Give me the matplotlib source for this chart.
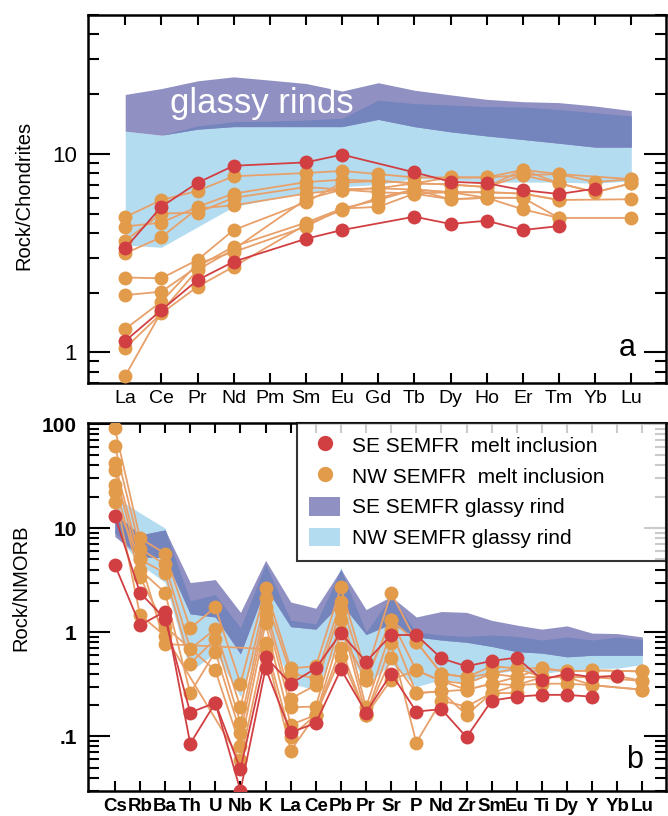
import numpy as np
import matplotlib
matplotlib.use("Agg")
import matplotlib.pyplot as plt
from matplotlib.ticker import LogLocator, FuncFormatter, NullFormatter
from matplotlib.patches import Patch
from matplotlib.lines import Line2D

plt.rcParams['font.family'] = ['Liberation Sans', 'DejaVu Sans']
nan = np.nan

# ---- panel a: chondrite normalised REE ----
ree = ['La', 'Ce', 'Pr', 'Nd', 'Pm', 'Sm', 'Eu', 'Gd', 'Tb', 'Dy', 'Ho', 'Er', 'Tm', 'Yb', 'Lu']

se_rind_hi_a = [19.9, 21.3, 23.3, 24.4, 23.5, 22.6, 20.7, 22.8, 20.9, 19.8, 18.8, 18.3, 18.1, 17.4, 16.5]
se_rind_lo_a = [13.0, 12.4, 13.3, 13.7, 13.7, 13.7, 13.7, 14.9, 13.7, 12.9, 12.3, 11.8, 11.3, 10.8, 10.8]
nw_rind_hi_a = [13.0, 12.4, 13.8, 14.5, 14.6, 14.8, 15.1, 18.6, 17.9, 17.6, 17.3, 17.2, 16.7, 16.1, 15.5]
nw_rind_lo_a = [3.47, 3.38, 4.28, 5.41, 5.9, 6.31, 6.82, 7.0, 7.5, 7.4, 7.2, 7.2, 7.2, 7.1, 7.3]

se_mi_a = [
    [3.34, 5.41, 7.14, 8.7, nan, 9.05, 9.9, nan, 8.06, 7.23, 7.1, 6.56, 6.27, 6.67, nan],
    [1.14, 1.63, 2.31, 2.86, nan, 3.73, 4.13, nan, 4.82, 4.43, 4.6, 4.13, 4.32, nan, nan],
]
nw_mi_a = [
    [4.8, 5.85, 6.5, 7.7, nan, 8.0, 8.2, 7.9, 7.6, 7.6, 7.6, 8.3, 7.9, 7.2, 7.45],
    [4.3, 4.5, 5.4, 6.3, nan, 7.2, 7.4, 7.3, 7.1, 7.0, 6.8, 7.8, 7.1, 6.4, 7.1],
    [3.65, 5.0, 5.05, 6.0, nan, 6.8, 6.6, 6.7, 6.6, 6.4, 6.4, 6.3, 5.85, nan, 5.9],
    [3.15, 3.8, 5.3, 5.5, nan, 6.3, 6.6, 6.4, 6.3, 5.9, 6.0, 6.0, 4.75, nan, 4.75],
    [2.38, 2.36, 2.92, 4.13, nan, 5.7, 7.15, 7.3, 7.1, 7.6, 7.6, 7.8, 7.9, nan, 7.45],
    [1.94, 2.02, 2.7, 3.41, nan, 4.5, 5.3, 5.85, 6.6, 6.4, 6.4, 6.3, 5.85, nan, nan],
    [1.31, 1.8, 2.8, 3.2, nan, 4.3, 5.3, 5.4, 6.3, 6.4, 6.0, 5.25, 4.75, nan, nan],
    [1.05, 1.57, 2.14, 2.7, nan, 4.4, 5.2, 6.0, 6.6, 5.9, 6.0, 6.0, nan, nan, nan],
    [0.76, 1.6, 2.6, 3.3, nan, 5.9, 6.6, 6.7, 7.1, 7.0, 6.8, 8.3, 7.1, 6.4, 7.1],
]

# ---- panel b: NMORB normalised spider ----
spider = ['Cs', 'Rb', 'Ba', 'Th', 'U', 'Nb', 'K', 'La', 'Ce', 'Pb', 'Pr', 'Sr', 'P', 'Nd',
          'Zr', 'Sm', 'Eu', 'Ti', 'Dy', 'Y', 'Yb', 'Lu']

se_rind_hi_b = [14, 8.6, 9.6, 3.0, 3.2, 1.55, 4.9, 1.95, 1.7, 4.0, 1.65, 2.2, 1.4, 1.58,
                1.55, 1.3, 1.17, 1.07, 1.15, 0.98, 0.97, 0.9]
se_rind_lo_b = [8.3, 5.3, 5.2, 1.5, 1.4, 0.62, 2.7, 1.13, 1.07, 1.9, 0.95, 1.2, 0.9, 0.84,
                0.8, 0.73, 0.65, 0.63, 0.58, 0.6, 0.6, 0.6]
nw_rind_hi_b = [20, 14, 10, 2.0, 2.3, 1.1, 4.5, 1.3, 1.2, 4.2, 1.0, 2.3, 1.0, 0.94,
                0.91, 0.94, 0.91, 0.84, 0.9, 0.84, 0.9, 0.85]
nw_rind_lo_b = [9, 4.5, 3.0, 0.42, 0.63, 0.24, 1.2, 0.32, 0.28, 0.9, 0.31, 0.5, 0.3, 0.35,
                0.33, 0.4, 0.43, 0.4, 0.43, 0.45, 0.45, 0.49]

se_mi_b = [
    [13.1, 2.4, 1.34, 0.169, 0.21, 0.048, 0.58, 0.32, 0.45, 0.98, 0.52, 0.94, 0.94, 0.56,
     0.47, 0.53, 0.57, 0.35, 0.40, 0.37, 0.38, nan],
    [4.43, 1.17, 1.58, 0.085, 0.21, 0.030, 0.45, 0.109, 0.134, 0.44, 0.169, 0.40, 0.173, 0.182,
     0.098, 0.22, 0.24, 0.25, 0.25, 0.24, nan, nan],
]
nw_mi_b = [
    [91, 8.0, 5.7, 1.09, 1.74, 0.32, 2.64, 0.45, 0.47, 2.7, 0.40, 2.4, 0.81, 0.40,
     0.37, 0.47, 0.45, 0.45, 0.42, 0.43, nan, 0.42],
    [62, 6.3, 4.5, 0.69, 1.07, 0.19, 2.12, 0.40, 0.36, 1.97, 0.35, 1.31, 0.43, 0.34,
     0.32, 0.40, 0.37, 0.37, 0.37, 0.37, 0.38, 0.34],
    [42, 5.0, 3.7, 0.50, 0.86, 0.134, 1.76, 0.23, 0.31, 1.64, 0.19, 1.05, 0.26, 0.27,
     0.28, 0.32, 0.31, 0.32, 0.32, 0.31, nan, 0.28],
    [36, 3.96, 2.4, 0.26, 0.65, 0.107, 1.47, 0.19, 0.193, 1.31, 0.16, 0.78, 0.087, 0.22,
     0.193, 0.26, 0.26, nan, nan, nan, nan, nan],
    [26, 3.37, 1.13, nan, 0.43, 0.08, 1.22, 0.129, 0.16, 0.70, 0.16, 0.56, 0.26, 0.27,
     0.16, 0.26, 0.31, 0.37, 0.37, 0.37, nan, 0.34],
    [22, 1.47, 0.92, nan, nan, 0.059, 0.78, 0.099, 0.16, 0.58, 0.16, 0.35, 0.43, 0.34,
     0.28, 0.32, 0.37, 0.45, 0.42, 0.43, nan, 0.42],
    [18, 5.0, 0.77, nan, nan, nan, 0.69, 0.073, 0.16, 1.0, 0.35, 1.31, 0.81, 0.40,
     0.37, 0.40, 0.45, 0.37, 0.37, 0.31, nan, 0.28],
]

RED = '#d13f42'
ORANGE = '#e29b4b'
ORANGE_LINE = '#e8a06a'
PURPLE = '#9090c3'
DARK = '#7484bd'
LIGHTBLUE = '#b4dcf1'


def bands(ax, x, se_hi, se_lo, nw_hi, nw_lo):
    se_hi, se_lo = np.array(se_hi), np.array(se_lo)
    nw_hi, nw_lo = np.array(nw_hi), np.array(nw_lo)
    ax.fill_between(x, nw_lo, nw_hi, color=LIGHTBLUE, lw=0, zorder=1)
    ax.fill_between(x, se_lo, se_hi, color=PURPLE, lw=0, zorder=1)
    lo = np.maximum(se_lo, nw_lo)
    hi = np.minimum(se_hi, nw_hi)
    ax.fill_between(x, lo, hi, where=hi > lo, interpolate=True, color=DARK, lw=0, zorder=2)


def series(ax, x, rows, lc, mc, z):
    for r in rows:
        r = np.array(r, dtype=float)
        m = np.isfinite(r)
        ax.plot(x[m], r[m], '-', color=lc, lw=1.3, zorder=z)
        ax.plot(x[m], r[m], 'o', color=mc, ms=10, mew=0, zorder=z + 1)


def style(ax, labels, bold, ylim, xlim):
    ax.set_yscale('log')
    ax.set_ylim(*ylim)
    ax.set_xlim(*xlim)
    ax.set_xticks(range(len(labels)))
    ax.set_xticklabels(labels, fontsize=13.5 if bold else 14,
                       fontweight='bold' if bold else 'normal')
    ax.yaxis.set_major_locator(LogLocator(base=10))
    ax.yaxis.set_minor_locator(LogLocator(base=10, subs=np.arange(2, 10)))
    ax.yaxis.set_minor_formatter(NullFormatter())
    names = {2: '100', 1: '10', 0: '1', -1: '.1', -2: '.01'}
    ax.yaxis.set_major_formatter(FuncFormatter(lambda v, p: names.get(int(round(np.log10(v))), '')))
    for lab in ax.get_yticklabels():
        lab.set_fontsize(16 if not bold else 15)
        lab.set_fontweight('bold' if bold else 'normal')
    ax.tick_params(which='both', direction='in', top=True, right=True, width=1.5, colors='black')
    ax.tick_params(axis='x', which='major', length=7, pad=5)
    ax.tick_params(axis='y', which='major', length=16, pad=8)
    ax.tick_params(axis='y', which='minor', length=8)
    for s in ax.spines.values():
        s.set_linewidth(1.8)


fig = plt.figure(figsize=(6.68, 8.16), dpi=100)
ax1 = fig.add_axes([0.1317, 0.5306, 0.8653, 0.451])
ax2 = fig.add_axes([0.1317, 0.031, 0.8653, 0.451])

xa = np.arange(len(ree), dtype=float)
bands(ax1, xa, se_rind_hi_a, se_rind_lo_a, nw_rind_hi_a, nw_rind_lo_a)
series(ax1, xa, nw_mi_a, ORANGE_LINE, ORANGE, 3)
series(ax1, xa, se_mi_a, RED, RED, 5)
style(ax1, ree, False, (0.7, 50), (-1.03, 14.96))
ax1.set_ylabel('Rock/Chondrites', fontsize=14.5)
ax1.yaxis.set_label_coords(-0.095, 0.51)
ax1.text(3.79, 18.0, 'glassy rinds', color='white', fontsize=25, ha='center', va='center', zorder=3)
ax1.text(13.89, 0.958, 'a', fontsize=22, ha='center', va='baseline')

xb = np.arange(len(spider), dtype=float)
bands(ax2, xb, se_rind_hi_b, se_rind_lo_b, nw_rind_hi_b, nw_rind_lo_b)
series(ax2, xb, nw_mi_b, ORANGE_LINE, ORANGE, 3)
series(ax2, xb, se_mi_b, RED, RED, 5)
style(ax2, spider, True, (0.03, 103), (-1.07, 21.94))
ax2.set_ylabel('Rock/NMORB', fontsize=14.5)
ax2.yaxis.set_label_coords(-0.1, 0.551)
ax2.text(20.67, 0.0494, 'b', fontsize=22, ha='center', va='baseline')

handles = [
    Line2D([], [], ls='none', marker='o', color=RED, ms=11, mew=0),
    Line2D([], [], ls='none', marker='o', color=ORANGE, ms=11, mew=0),
    Patch(facecolor=PURPLE, edgecolor='none'),
    Patch(facecolor=LIGHTBLUE, edgecolor='none'),
]
names = ['SE SEMFR  melt inclusion', 'NW SEMFR  melt inclusion',
         'SE SEMFR glassy rind', 'NW SEMFR glassy rind']
leg = ax2.legend(handles, names, loc='upper left', bbox_to_anchor=(0.361, 0.0, 0.639, 1.0),
                 mode='expand', borderaxespad=0, fontsize=15, fancybox=False,
                 handlelength=1.5, handleheight=1.0, handletextpad=0.55,
                 labelspacing=0.5, borderpad=0.6)
leg.get_frame().set_edgecolor('black')
leg.get_frame().set_linewidth(1.5)
leg.set_zorder(10)

fig.savefig('out.png', dpi=100)
